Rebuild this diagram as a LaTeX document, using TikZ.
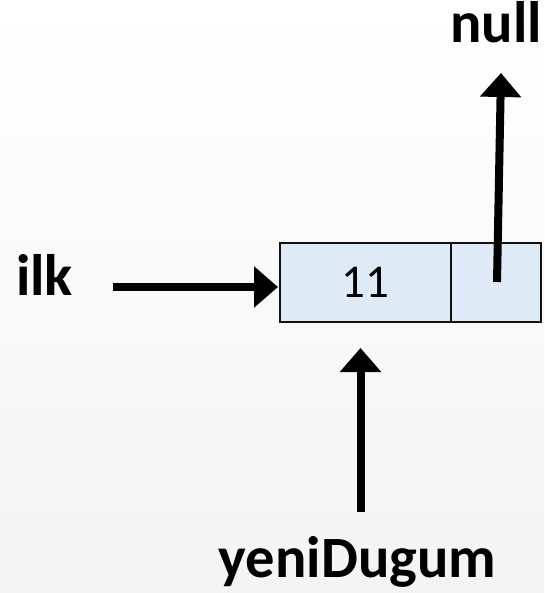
\documentclass[tikz,border=0pt]{standalone}
\usepackage{fontspec}
\setmainfont{Carlito}
\usetikzlibrary{arrows.meta}
\definecolor{cellfill}{HTML}{DEEAF6}
\definecolor{cellline}{HTML}{111111}
\definecolor{bgbottom}{HTML}{F4F4F4}
\tikzset{
  cell/.style={draw=cellline, line width=2.3pt, fill=cellfill, minimum height=79pt, inner sep=0pt, outer sep=0pt},
  lbl/.style={inner sep=0pt, font=\fontsize{58.5}{64}\selectfont\bfseries},
  arr/.style={line width=8pt, -{Triangle[width=40pt,length=24pt]}}
}
\begin{document}
\begin{tikzpicture}[x=1pt,y=-1pt]
\shade[top color=white, bottom color=bgbottom] (0,0) rectangle (544,593);
\useasboundingbox (0,0) rectangle (544,593);
\node[cell, minimum width=171pt, font=\fontsize{47}{50}\selectfont] (data) at (365.5,282.5) {11};
\node[cell, minimum width=90pt, anchor=west] (ptr) at (data.east) {};
\node[lbl, anchor=base west] (ilk) at (16,295) {ilk};
\node[lbl, anchor=base west] (null) at (450,43) {null};
\node[lbl, anchor=base] (yeni) at (357.5,577) {yeniDugum};
\coordinate (ilkstart) at (113,287);
\coordinate (ptrstart) at (497,282);
\coordinate (nullend) at (501,73);
\coordinate (yenistart) at (360.5,512);
\coordinate (yeniend) at (360.5,348);
\draw[arr] (ilkstart) -- ([xshift=-2pt]data.west |- ilkstart);
\draw[arr] (ptrstart) -- (nullend);
\draw[arr] (yenistart) -- (yeniend);
\end{tikzpicture}
\end{document}
